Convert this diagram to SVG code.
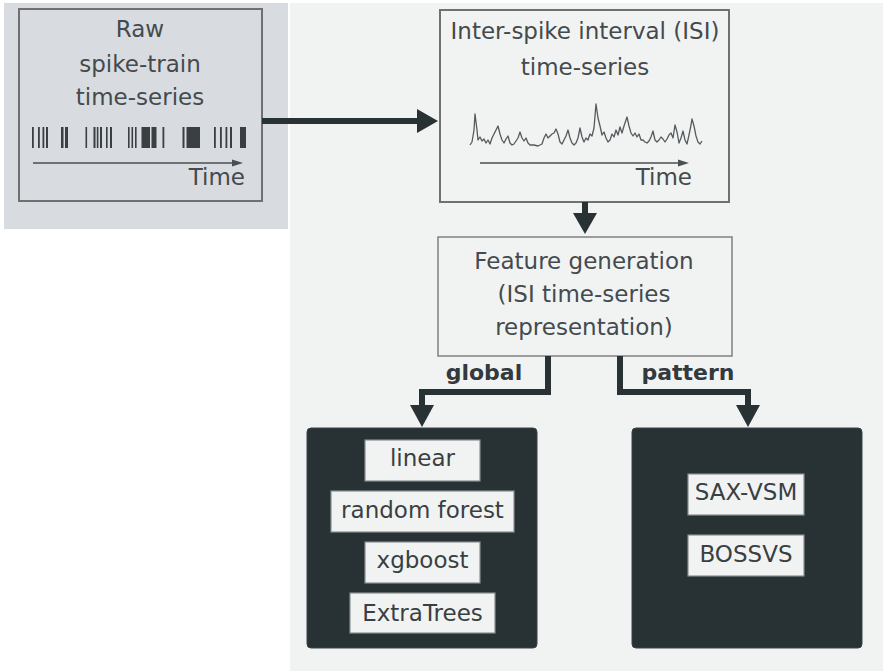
<svg xmlns="http://www.w3.org/2000/svg" width="883" height="671" viewBox="0 0 883 671">
<defs>
<style>
.t{font-family:"DejaVu Sans",sans-serif;font-size:23px;fill:#444a4d;text-anchor:middle}
.tb{font-family:"DejaVu Sans",sans-serif;font-size:22px;font-weight:bold;fill:#33393c;text-anchor:middle}
.it{font-family:"DejaVu Sans",sans-serif;font-size:23px;fill:#3a3f42;text-anchor:middle}
.box{fill:none;stroke:#707070;stroke-width:2}
.dark{fill:#283134;stroke:#3a4346;stroke-width:1}
.ib{fill:#f1f3f3;stroke:#8a8f91;stroke-width:1.2}
.con{fill:none;stroke:#283134;stroke-width:6;stroke-linejoin:miter}
.head{fill:#283134}
.thin{stroke:#4a4f52;stroke-width:1.6;fill:none}
.bar{fill:#3a3f42}
</style>
</defs>
<rect x="0" y="0" width="883" height="671" fill="#ffffff"/>
<rect x="290" y="3" width="593" height="668" fill="#f1f3f3"/>
<rect x="4" y="3" width="284" height="226" fill="#d8dce0"/>

<g id="raw">
<rect class="box" x="19" y="9" width="243" height="192" fill="#d8dce0"/>
<text class="t" x="140" y="37">Raw</text>
<text class="t" x="140" y="72">spike-train</text>
<text class="t" x="140" y="105">time-series</text>
<g class="bar">
<rect x="32" y="127" width="1.8" height="21"/><rect x="38" y="127" width="1.8" height="21"/><rect x="42.5" y="127" width="1.8" height="21"/><rect x="46" y="127" width="2" height="21"/><rect x="61" y="127" width="2.5" height="21"/><rect x="65" y="127" width="3" height="21"/>
<rect x="85.5" y="127" width="1.6" height="21"/><rect x="93.5" y="127" width="2" height="21"/><rect x="96.8" y="127" width="1.6" height="21"/><rect x="100" y="127" width="2" height="21"/><rect x="106" y="127" width="1.6" height="21"/><rect x="110" y="127" width="2" height="21"/>
<rect x="128" y="127" width="1.6" height="21"/><rect x="131.5" y="127" width="1.6" height="21"/><rect x="135" y="127" width="1.6" height="21"/><rect x="141.5" y="127" width="8.5" height="21"/><rect x="151.5" y="127" width="5" height="21"/><rect x="162.5" y="127" width="1.8" height="21"/>
<rect x="182.5" y="127" width="2" height="21"/><rect x="186.5" y="127" width="13.5" height="21"/>
<rect x="214" y="127" width="1.8" height="21"/><rect x="220" y="127" width="1.8" height="21"/><rect x="225.5" y="127" width="1.8" height="21"/><rect x="230" y="127" width="2" height="21"/><rect x="240" y="127" width="6" height="21"/>
</g>
<line class="thin" x1="33" y1="163" x2="234" y2="163"/>
<polygon points="232,159.5 243,163 232,166.5" fill="#4a4f52"/>
<text class="t" x="245" y="185" style="text-anchor:end">Time</text>
</g>

<g id="isi">
<rect class="box" x="440" y="10" width="289" height="192" fill="#f1f3f3"/>
<text class="t" x="585" y="39">Inter-spike interval (ISI)</text>
<text class="t" x="585" y="75">time-series</text>
<polyline fill="none" stroke="#555a5d" stroke-width="1.3" stroke-linejoin="round" points="470,145 472,142 474,130 475,114 477,130 478,140 480,137 482,141 484,139 486,143 488,140 490,144 492,138 494,134 496,130 498,126 500,134 502,140 504,143 506,139 508,136 510,143 512,145 514,144 516,141 518,138 520,132 522,138 524,141 526,138 528,143 530,145 534,145 538,146 542,144 544,138 546,134 548,138 550,136 552,134 554,133 556,129 558,134 560,142 562,144 564,140 566,136 568,130 570,138 572,143 574,145 576,143 578,138 580,128 582,137 584,142 586,138 588,140 590,134 592,136 594,128 596,104 598,118 600,126 602,135 604,132 606,138 608,142 610,140 612,134 614,137 616,130 618,135 620,127 622,133 624,126 626,120 627,117 629,126 631,133 633,136 635,133 637,137 639,134 641,140 643,140 645,142 647,143 649,141 651,137 653,131 655,140 657,142 659,140 661,137 663,139 665,142 667,139 669,135 671,133 673,138 675,125 677,132 679,143 681,138 683,131 685,140 687,144 689,135 691,125 692,119 694,126 696,136 698,142 700,144 702,141"/>
<line class="thin" x1="480" y1="163" x2="680" y2="163"/>
<polygon points="678,159.5 689,163 678,166.5" fill="#4a4f52"/>
<text class="t" x="692" y="185" style="text-anchor:end">Time</text>
</g>

<g id="feature">
<rect x="438" y="237" width="294" height="119" fill="#f1f3f3" stroke="#808080" stroke-width="1.5"/>
<text class="t" x="584" y="269">Feature generation</text>
<text class="t" x="584" y="302">(ISI time-series</text>
<text class="t" x="584" y="335">representation)</text>
</g>

<g id="global-models">
<rect class="dark" x="307" y="428" width="230" height="220" rx="4"/>
<rect class="ib" x="365" y="440" width="115" height="41"/>
<text class="it" x="422.5" y="466">linear</text>
<rect class="ib" x="331" y="491" width="183" height="41"/>
<text class="it" x="422.5" y="518">random forest</text>
<rect class="ib" x="365" y="542" width="115" height="41"/>
<text class="it" x="422.5" y="568">xgboost</text>
<rect class="ib" x="350" y="593" width="145" height="40"/>
<text class="it" x="422.5" y="621">ExtraTrees</text>
</g>

<g id="pattern-models">
<rect class="dark" x="632" y="428" width="230" height="220" rx="4"/>
<rect class="ib" x="688" y="474" width="116" height="41"/>
<text class="it" x="746" y="500">SAX-VSM</text>
<rect class="ib" x="688" y="535" width="116" height="41"/>
<text class="it" x="746" y="562">BOSSVS</text>
</g>

<g id="connectors">
<line class="con" x1="262" y1="121" x2="419" y2="121"/>
<polygon class="head" points="417,109 438,121 417,133"/>
<line class="con" x1="585" y1="202" x2="585" y2="215"/>
<polygon class="head" points="573,213 597,213 585,234"/>
<polyline class="con" points="548,356 548,392 422,392 422,407"/>
<polygon class="head" points="410,405 434,405 422,427"/>
<polyline class="con" points="620,356 620,392 748,392 748,407"/>
<polygon class="head" points="736,405 760,405 748,427"/>
<text class="tb" x="484" y="380">global</text>
<text class="tb" x="688" y="380">pattern</text>
</g>
</svg>
